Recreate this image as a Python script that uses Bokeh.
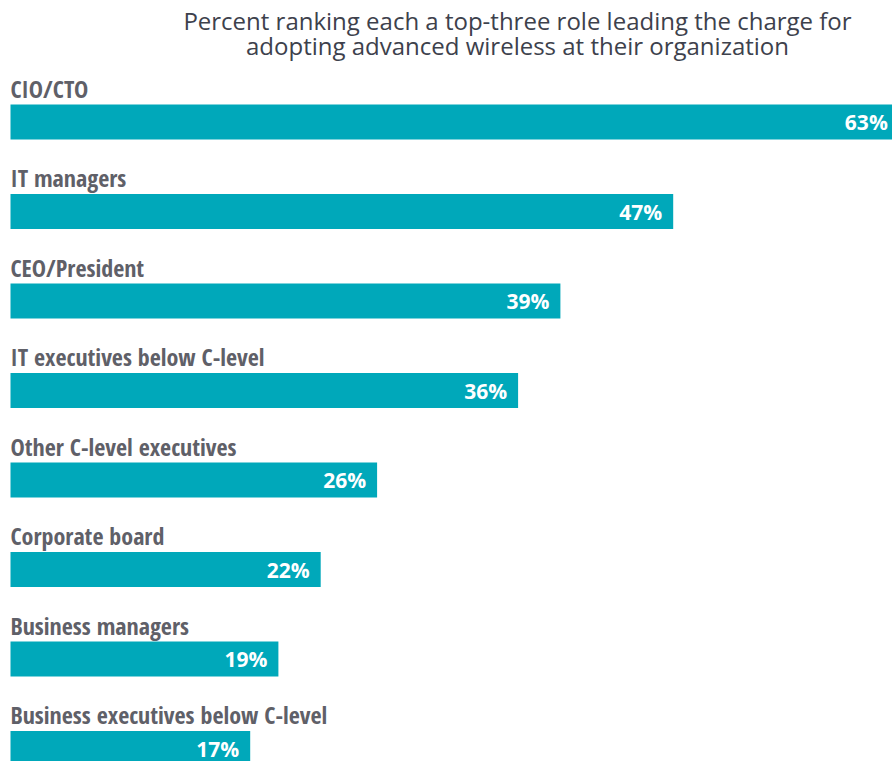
from bokeh.plotting import figure
from bokeh.models import ColumnDataSource, Range1d, Label
from bokeh.core.properties import value
from bokeh.embed import file_html
from bokeh.resources import INLINE

roles = ["CIO/CTO", "IT managers", "CEO/President", "IT executives below C-level",
         "Other C-level executives", "Corporate board", "Business managers",
         "Business executives below C-level"]
percents = [63, 47, 39, 36, 26, 22, 19, 17]
title_lines = ["Percent ranking each a top-three role leading the charge for",
               "adopting advanced wireless at their organization"]

BAR = "#00A8BA"
GRAY = "#5f6068"

idx = list(range(len(roles)))
src = ColumnDataSource(dict(
    y=idx, pct=percents, role=roles,
    lbl=[f"{v}%" for v in percents],
))

W, H = 892, 761
px_per_pct = 14.1
x0 = -10 / px_per_pct
spacing = 89.5
top = -121.5 / spacing

p = figure(width=W, height=H, output_backend="svg", toolbar_location=None,
           x_range=Range1d(x0, x0 + W / px_per_pct),
           y_range=Range1d(top + H / spacing, top),
           min_border=0, outline_line_color=None)
p.axis.visible = False
p.grid.visible = False
p.background_fill_color = "white"
p.border_fill_color = "white"

p.hbar(y="y", left=0, right="pct", height=35 / spacing, source=src,
       fill_color=BAR, line_color=None)

p.text(x=0, y="y", text="role", source=src, y_offset=-34, x_offset=0,
       text_baseline="alphabetic", text_align="left",
       text_font=value("'Open Sans Condensed', 'Liberation Sans Narrow', 'DejaVu Sans Condensed', 'Roboto Condensed', Roboto"),
       text_font_style="bold",
       text_font_size="24px", text_color=GRAY)

p.text(x="pct", y="y", text="lbl", source=src, y_offset=0, x_offset=-11,
       text_baseline="alphabetic", text_align="right",
       text_font=value("Open Sans"), text_font_style="bold",
       text_font_size="21px", text_color="white")

for i, (t, yb) in enumerate(zip(title_lines, [H - 20, H - 45])):
    p.add_layout(Label(x=517, y=yb, x_units="screen", y_units="screen", text=t,
                       text_align="center", text_baseline="alphabetic",
                       text_font="Open Sans", text_font_size="24px",
                       text_color="#3d414c"))

open("out.html", "w").write(file_html(p, INLINE))
